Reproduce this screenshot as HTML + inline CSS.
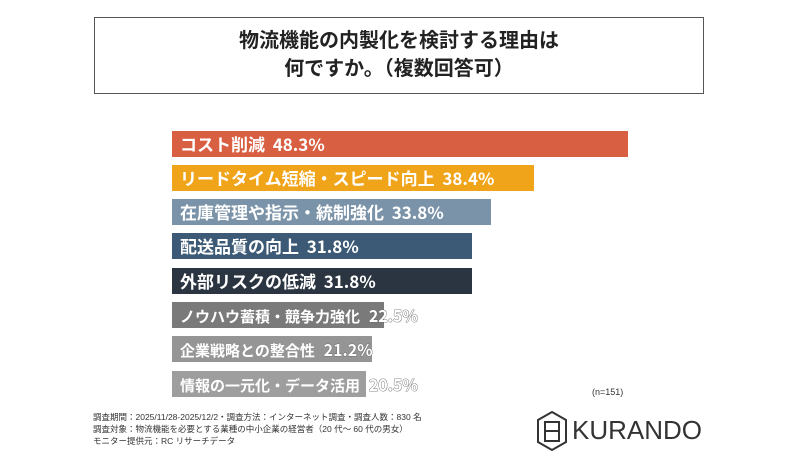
<!DOCTYPE html>
<html><head><meta charset="utf-8"><style>
body{margin:0;background:#fff;width:800px;height:467px;position:relative;overflow:hidden;font-family:"Liberation Sans","Noto Sans CJK JP",sans-serif}
.t{position:absolute;left:94px;top:17px;width:610px;height:77px;border:1.5px solid #555;box-sizing:border-box;text-align:center;font-weight:bold;font-size:20px;line-height:28px;padding-top:9px;color:#222}
.b{position:absolute;left:172px;height:26px;color:#fff;font-weight:bold;font-size:17px;line-height:26px;white-space:nowrap;padding-left:8px;box-sizing:border-box;font-family:"Noto Sans CJK JP",sans-serif}
.s{font-size:15px}
.o{color:#fff;-webkit-text-stroke:0.8px #666;paint-order:stroke;font-size:16px;margin-left:2px}
.f{position:absolute;left:93px;top:411px;font-size:8.5px;line-height:12px;color:#333}
</style></head><body>
<div class="t">物流機能の内製化を検討する理由は<br>何ですか。（複数回答可）</div>
<div class="b" style="top:131px;width:456px;background:#d95f43">コスト削減&nbsp; 48.3%</div>
<div class="b" style="top:165px;width:362px;background:#f0a419">リードタイム短縮・スピード向上&nbsp; 38.4%</div>
<div class="b" style="top:199px;width:319px;background:#7b93a8">在庫管理や指示・統制強化&nbsp; 33.8%</div>
<div class="b" style="top:233px;width:300px;background:#3c5a76">配送品質の向上&nbsp; 31.8%</div>
<div class="b" style="top:268px;width:300px;background:#2b3542">外部リスクの低減&nbsp; 31.8%</div>
<div class="b s" style="top:302px;width:212px;background:#7a7a7a">ノウハウ蓄積・競争力強化&nbsp; <span class="o">22.5%</span></div>
<div class="b s" style="top:336px;width:200px;background:#959595">企業戦略との整合性&nbsp; <span class="o">21.2%</span></div>
<div class="b s" style="top:371px;width:194px;background:#9e9e9e">情報の一元化・データ活用&nbsp; <span class="o">20.5%</span></div>
<div style="position:absolute;left:592px;top:387px;font-size:9px;color:#333">(n=151)</div>
<div class="f">調査期間：2025/11/28-2025/12/2・調査方法：インターネット調査・調査人数：830 名<br>調査対象：物流機能を必要とする業種の中小企業の経営者（20 代～ 60 代の男女）<br>モニター提供元：RC リサーチデータ</div>
<svg style="position:absolute;left:536px;top:411px" width="32" height="40" viewBox="0 0 32 40"><polygon points="16,1 30,9 30,31 16,39 2,31 2,9" fill="none" stroke="#333" stroke-width="2"/><rect x="9" y="11" width="14" height="19" fill="none" stroke="#333" stroke-width="2"/><line x1="9" y1="20" x2="23" y2="20" stroke="#333" stroke-width="2"/></svg>
<div style="position:absolute;left:572px;top:415px;font-size:26px;line-height:30px;color:#333">KURANDO</div>
</body></html>
